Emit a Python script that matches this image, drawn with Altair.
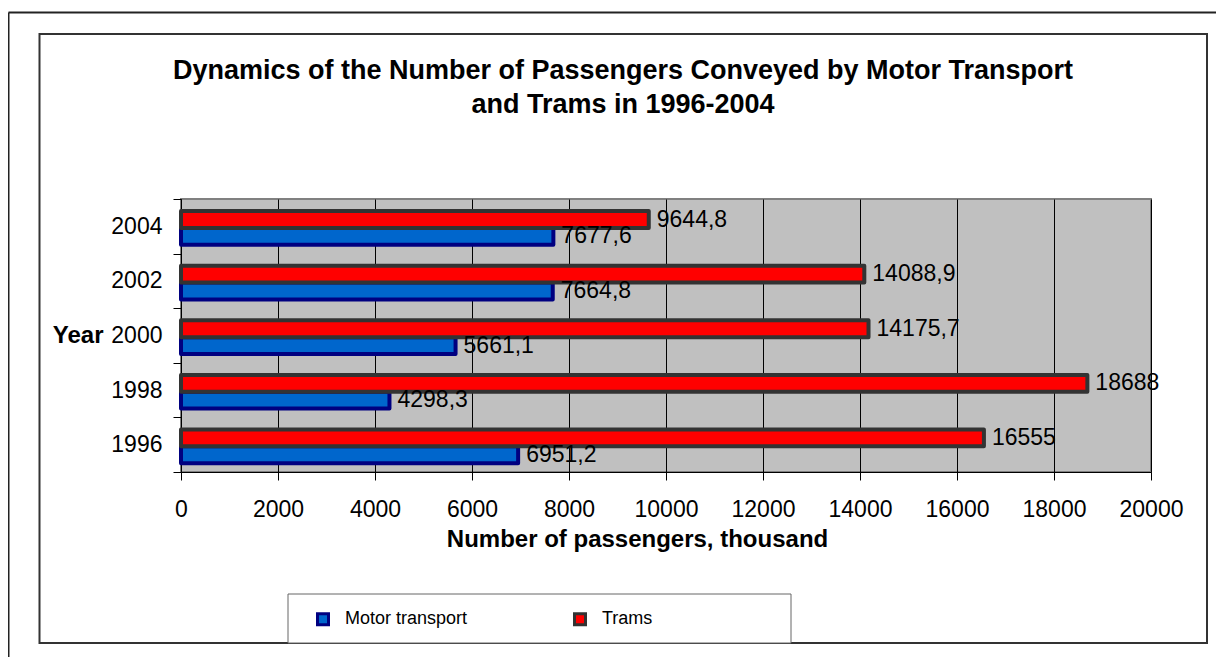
import altair as alt
import pandas as pd

# ---- data ----
years = ["1996", "1998", "2000", "2002", "2004"]
motor = [6951.2, 4298.3, 5661.1, 7664.8, 7677.6]
trams = [16555, 18688, 14175.7, 14088.9, 9644.8]
series = ["Motor transport", "Trams"]
fills = ["#0066CC", "#FF0000"]
strokes = ["#000080", "#333333"]
x_ticks = [0, 2000, 4000, 6000, 8000, 10000, 12000, 14000, 16000, 18000, 20000]
title_lines = [
    "Dynamics of the Number of Passengers Conveyed by Motor Transport",
    "and Trams in 1996-2004",
]


def fmt(v):
    return f"{v:g}".replace(".", ",")


rows = []
for y, v in zip(years, motor):
    rows.append({"year": y, "series": series[0], "value": v, "label": fmt(v)})
for y, v in zip(years, trams):
    rows.append({"year": y, "series": series[1], "value": v, "label": fmt(v)})
df = pd.DataFrame(rows)

FONT = "Liberation Sans"
W, H = 970, 273

y_enc = alt.Y(
    "year:N",
    sort=years[::-1],
    scale=alt.Scale(paddingInner=0, paddingOuter=0),
    axis=alt.Axis(
        title="Year", titleAngle=0, titleAlign="right", titleBaseline="middle",
        titleX=-78, titleY=H / 2, titleFont=FONT, titleFontSize=24,
        titleFontWeight="bold", titleColor="black",
        labelFont=FONT, labelFontSize=23, labelColor="black", labelPadding=11,
        tickSize=8, tickColor="black", domainColor="black", tickBand="extent",
        grid=False,
    ),
)
yoff = alt.YOffset(
    "series:N", sort=["Trams", "Motor transport"],
    scale=alt.Scale(paddingInner=0, paddingOuter=0.62, align=0.58),
)
x_enc = alt.X(
    "value:Q",
    scale=alt.Scale(domain=[0, 20000], nice=False),
    axis=alt.Axis(
        values=x_ticks, format="d", title="Number of passengers, thousand",
        titleX=456, titleY=74, titleAlign="center", titleBaseline="alphabetic",
        titleFont=FONT, titleFontSize=24, titleFontWeight="bold", titleColor="black",
        labelFont=FONT, labelFontSize=23, labelColor="black", labelBaseline="alphabetic",
        labelPadding=36, labelOverlap=False, labelFlush=False,
        tickSize=8, tickColor="black", domainColor="black",
        grid=True, gridColor="black", gridWidth=1, gridOpacity=1,
    ),
)

leg = alt.Legend(
    title=None, orient="none", legendX=133, legendY=411, direction="horizontal",
    columns=2, columnPadding=100, symbolType="square", symbolSize=121,
    symbolStrokeWidth=3, labelFont=FONT, labelFontSize=18, labelOffset=13,
    labelColor="black", padding=0, labelLimit=300,
)

bars = alt.Chart(df).mark_bar(strokeWidth=4, strokeJoin="round").encode(
    x=x_enc, y=y_enc, yOffset=yoff,
    fill=alt.Fill("series:N", scale=alt.Scale(domain=series, range=fills), legend=leg),
    stroke=alt.Stroke("series:N", scale=alt.Scale(domain=series, range=strokes), legend=leg),
)

labels = alt.Chart(df).mark_text(
    align="left", baseline="middle", dx=8, font=FONT, fontSize=23, color="black"
).encode(x=x_enc, y=y_enc, yOffset=yoff, text="label:N")

dummy = pd.DataFrame({"k": [0]})
outer_left = alt.Chart(dummy).mark_rule(color="#222222", strokeWidth=2).encode(
    x=alt.value(-172.5), y=alt.value(-186.5), y2=alt.value(700))
outer_top = alt.Chart(dummy).mark_rule(color="#222222", strokeWidth=2).encode(
    x=alt.value(-172.5), x2=alt.value(1200), y=alt.value(-186.5))
inner = alt.Chart(dummy).mark_rect(fill="transparent", stroke="#333333", strokeWidth=2).encode(
    x=alt.value(-141.5), x2=alt.value(1026), y=alt.value(-165), y2=alt.value(444))
legend_box = alt.Chart(dummy).mark_rect(fill="white", stroke="#666666", strokeWidth=1).encode(
    x=alt.value(107), x2=alt.value(610), y=alt.value(395), y2=alt.value(444))
title = alt.Chart(dummy).mark_text(
    text=title_lines, font=FONT, fontSize=27, fontWeight="bold", color="black",
    align="center", baseline="alphabetic", lineHeight=34,
).encode(x=alt.value(442), y=alt.value(-119.7))

chart = alt.layer(
    outer_left, outer_top, inner, legend_box, title, bars, labels
).properties(
    width=W, height=H,
    autosize=alt.AutoSizeParams(type="none"),
    padding={"left": 173, "top": 191, "right": 65, "bottom": 185},
    background="white",
).configure_view(fill="#C0C0C0", stroke="#808080", strokeWidth=2)

chart.save("out.html", embed_options={"renderer": "svg", "actions": False})
